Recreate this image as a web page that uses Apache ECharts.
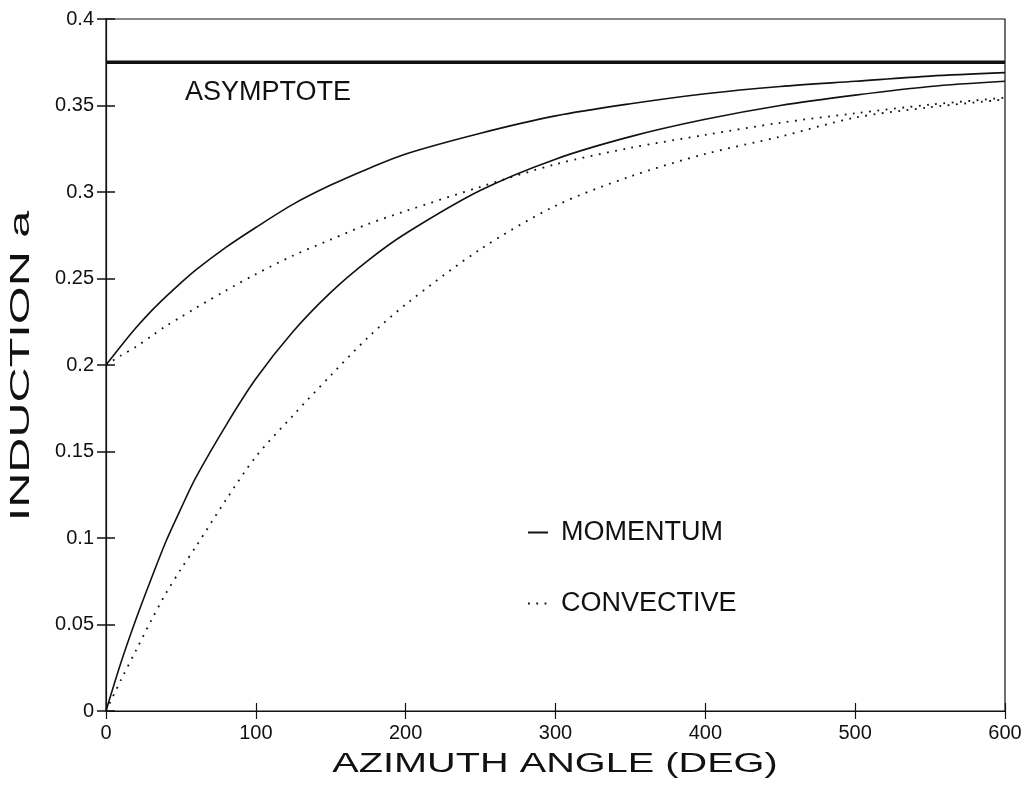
<!DOCTYPE html>
<html>
<head>
<meta charset="utf-8">
<title>Induction vs azimuth angle</title>
<script src="https://cdn.jsdelivr.net/npm/echarts@6/dist/echarts.min.js"></script>
<style>
  html, body { margin: 0; padding: 0; background: #fff; }
  #main { width: 1029px; height: 789px; }
</style>
</head>
<body>
<div id="main"></div>
<script>
// azimuth angle (deg) where the curves were read
var angles = [0, 10, 20, 30, 40, 50, 60, 80, 100, 125, 150, 175, 200, 250, 300, 350, 400, 450, 500, 550, 600]

// momentum theory, start a = 0.2 and a = 0
var momentumHigh = [0.2, 0.211, 0.2215, 0.231, 0.2395, 0.2475, 0.255, 0.268, 0.2795, 0.293, 0.304, 0.3135, 0.322, 0.334, 0.344, 0.351, 0.3568, 0.361, 0.364, 0.367, 0.369]
var momentumLow = [0, 0.028, 0.053, 0.076, 0.098, 0.117, 0.135, 0.165, 0.192, 0.2195, 0.242, 0.2605, 0.276, 0.301, 0.319, 0.332, 0.342, 0.350, 0.356, 0.361, 0.364]

// convective theory, start a = 0.2 and a = 0
var convectiveHigh = [0.2, 0.2055, 0.2105, 0.2165, 0.2225, 0.2277, 0.233, 0.243, 0.2525, 0.2633, 0.2725, 0.2815, 0.289, 0.303, 0.316, 0.3255, 0.333, 0.340, 0.3455, 0.3505, 0.3545]
var convectiveLow = [0, 0.018, 0.035, 0.052, 0.068, 0.082, 0.095, 0.122, 0.147, 0.171, 0.194, 0.216, 0.235, 0.267, 0.292, 0.309, 0.322, 0.332, 0.343, 0.349, 0.3535]

var asymptoteX = [0, 600]
var asymptoteY = [0.375, 0.375]

function pairs (xs, ys) {
  return xs.map(function (x, i) { return [x, ys[i]] })
}

var ink = '#111'
var font = 'Liberation Sans'

var myChart = echarts.init(document.getElementById('main'))

var option = {
  backgroundColor: '#fff',
  animation: false,
  textStyle: { fontFamily: font, color: ink },
  grid: {
    left: 106,
    right: 24,
    top: 19,
    bottom: 78,
    show: true,
    borderColor: ink,
    borderWidth: 1.2
  },
  legend: {
    data: ['MOMENTUM', 'CONVECTIVE'],
    orient: 'vertical',
    left: 522,
    top: 514,
    itemGap: 44,
    itemWidth: 20,
    itemHeight: 14,
    itemStyle: { opacity: 0, borderWidth: 0 },
    textStyle: { fontFamily: font, fontSize: 27, color: ink, padding: [0, 0, 0, 8] }
  },
  xAxis: [
    {
      type: 'value',
      min: 0,
      max: 600,
      interval: 100,
      axisLine: { lineStyle: { color: ink, width: 1.2 } },
      axisTick: { length: 8, lineStyle: { color: ink, width: 1.2 } },
      axisLabel: { fontSize: 20, color: ink, margin: 12, fontFamily: font },
      splitLine: { show: false }
    },
    {
      type: 'value',
      position: 'bottom',
      min: 0,
      max: 600,
      interval: 100,
      axisLine: { show: false },
      axisTick: { inside: true, length: 8, lineStyle: { color: ink, width: 1.2 } },
      axisLabel: { show: false },
      splitLine: { show: false }
    }
  ],
  yAxis: [
    {
      type: 'value',
      min: 0,
      max: 0.4,
      interval: 0.05,
      axisLine: { show: true, lineStyle: { color: ink, width: 1.2 } },
      axisTick: { show: true, length: 9, lineStyle: { color: ink, width: 1.5 } },
      axisLabel: { fontSize: 20, color: ink, margin: 12, fontFamily: font },
      splitLine: { show: false }
    },
    {
      type: 'value',
      position: 'left',
      min: 0,
      max: 0.4,
      interval: 0.05,
      axisLine: { show: false },
      axisTick: { show: true, inside: true, length: 9, lineStyle: { color: ink, width: 1.5 } },
      axisLabel: { show: false },
      splitLine: { show: false }
    }
  ],
  graphic: [
    {
      type: 'text',
      x: 555,
      y: 765,
      scaleX: 1.47,
      style: {
        text: 'AZIMUTH ANGLE (DEG)',
        fontFamily: font,
        fontSize: 27,
        fill: ink,
        align: 'center',
        verticalAlign: 'middle'
      }
    },
    {
      type: 'text',
      x: 22,
      y: 366,
      rotation: Math.PI / 2,
      scaleX: 1.8,
      style: {
        text: 'INDUCTION a',
        fontFamily: font,
        fontSize: 27,
        fill: ink,
        align: 'center',
        verticalAlign: 'middle'
      }
    },
    {
      type: 'text',
      x: 185,
      y: 93,
      style: {
        text: 'ASYMPTOTE',
        fontFamily: font,
        fontSize: 27,
        fill: ink,
        align: 'left',
        verticalAlign: 'middle'
      }
    }
  ],
  series: [
    {
      name: 'ASYMPTOTE',
      type: 'line',
      symbol: 'none',
      data: pairs(asymptoteX, asymptoteY),
      lineStyle: { color: ink, width: 3.5 }
    },
    {
      name: 'MOMENTUM',
      type: 'line',
      smooth: 0.3,
      symbol: 'none',
      data: pairs(angles, momentumHigh),
      lineStyle: { color: ink, width: 1.6 },
      itemStyle: { color: ink }
    },
    {
      name: 'MOMENTUM',
      type: 'line',
      smooth: 0.3,
      symbol: 'none',
      data: pairs(angles, momentumLow),
      lineStyle: { color: ink, width: 1.6 },
      itemStyle: { color: ink }
    },
    {
      name: 'CONVECTIVE',
      type: 'line',
      smooth: 0.3,
      symbol: 'none',
      data: pairs(angles, convectiveHigh),
      lineStyle: { color: ink, width: 1.8, type: [1.8, 6.5] },
      itemStyle: { color: ink }
    },
    {
      name: 'CONVECTIVE',
      type: 'line',
      smooth: 0.3,
      symbol: 'none',
      data: pairs(angles, convectiveLow),
      lineStyle: { color: ink, width: 1.8, type: [1.8, 6.5] },
      itemStyle: { color: ink }
    }
  ]
}

myChart.setOption(option)
</script>
</body>
</html>
